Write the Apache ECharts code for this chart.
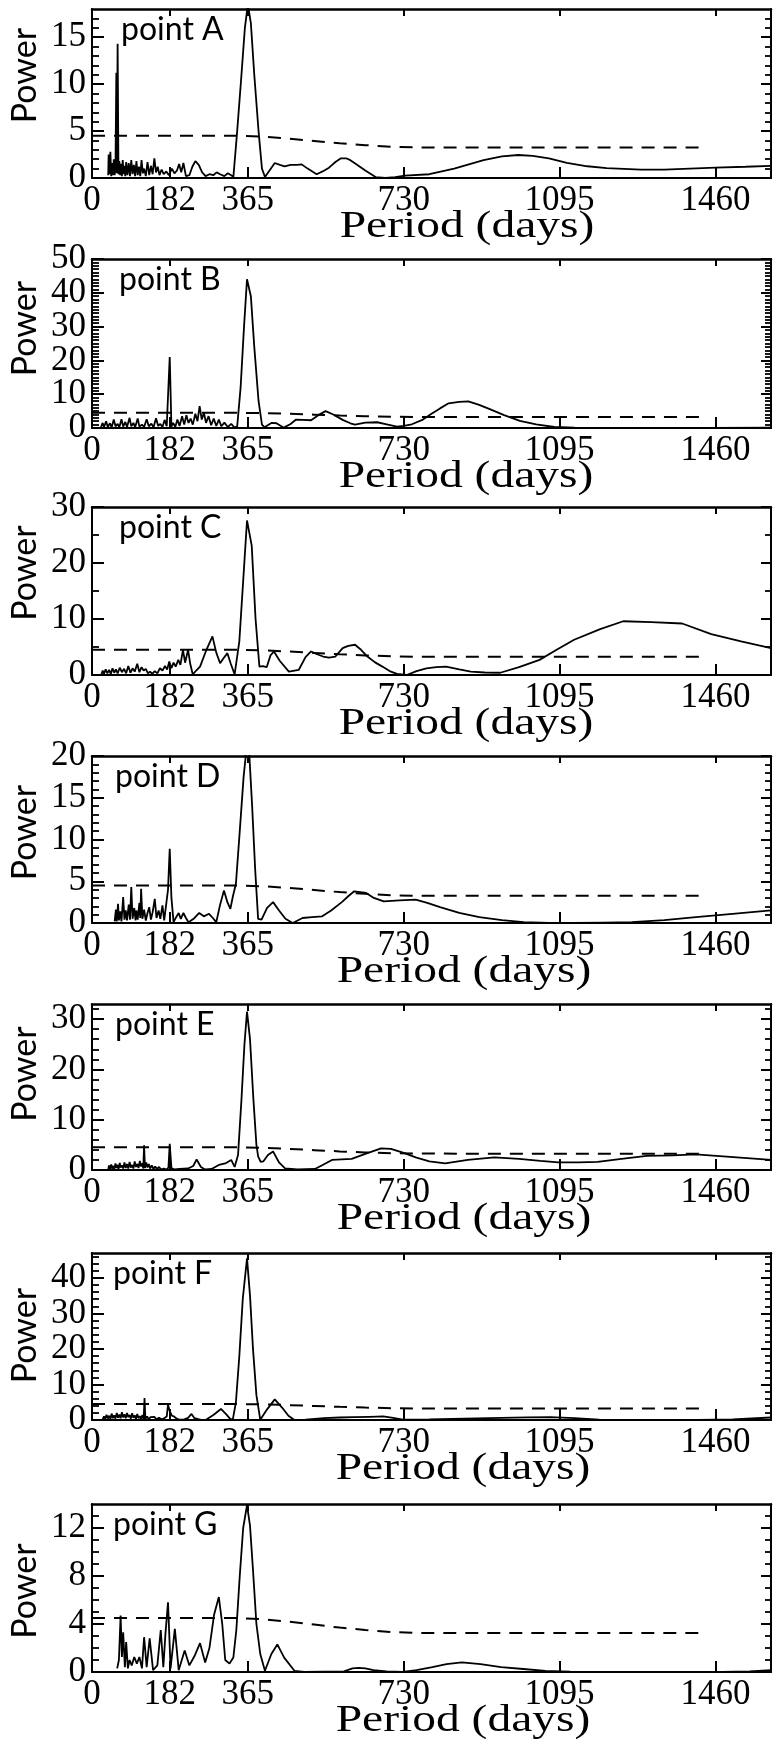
<!DOCTYPE html>
<html>
<head>
<meta charset="utf-8">
<title>Periodograms</title>
<script src="https://cdn.jsdelivr.net/npm/echarts@6/dist/echarts.min.js"></script>
<style>
html, body { margin: 0; padding: 0; background: #fff; }
#chart { width: 773px; height: 1750px; }
</style>
</head>
<body>
<div id="chart"></div>
<script>
// x axis (period in days), shared by every panel
var xTicks = [0, 182, 365, 730, 1095, 1460];
var xMax = 1590;

var pointNames = ['point A', 'point B', 'point C', 'point D', 'point E', 'point F', 'point G'];
var yMaxes = [18, 50, 30, 20, 33, 47, 14];
var yMajor = [5, 10, 10, 5, 10, 10, 4];
var yMinor = [1, 1, 5, 1, 2, 2, 1];

// significance level (dashed), same in all panels
var thresholdDays = [0, 340, 400, 460, 520, 580, 640, 700, 760, 900, 1430];
var thresholdPower = [4.5, 4.5, 4.4, 4.2, 3.95, 3.7, 3.5, 3.33, 3.26, 3.25, 3.25];

// periodograms [period (days), power]
var pointA = [[38,0.3],[39,2.5],[41,0.4],[43,2.8],[45,0.2],[47,1.6],[49,0.3],[51,2.0],[53,0.3],[55,1.2],[57,11.2],[58,0.5],[60,14.3],[62,0.4],[64,1.8],[66,0.3],[68,1.5],[70,0.2],[72,1.9],[74,0.4],[76,1.3],[78,0.2],[80,1.7],[83,0.3],[86,1.6],[89,0.2],[92,1.9],[95,0.4],[98,1.4],[101,0.2],[104,1.8],[107,0.3],[110,1.2],[113,0.2],[116,1.9],[119,0.5],[122,1.0],[126,0.2],[130,1.7],[134,0.3],[138,1.3],[142,0.4],[146,2.1],[150,0.6],[154,1.2],[158,0.3],[163,0.9],[168,0.4],[174,0.7],[180,0.3],[187,1.0],[193,0.5],[199,0.8],[204,1.5],[209,0.6],[214,1.6],[220,0.2],[228,0.3],[235,1.2],[242,1.8],[250,1.4],[258,0.6],[266,0.2],[275,0.4],[284,0.3],[292,0.6],[300,0.4],[310,0.2],[318,0.5],[326,0.3],[331,0.1],[340,5],[350,11],[358,16],[365,18.5],[372,16.5],[380,11],[390,5],[398,1],[405,0.1],[428,1.6],[440,1.4],[451,1.25],[465,1.4],[480,1.4],[491,1.45],[505,1.0],[526,0.4],[540,0.7],[555,1.1],[570,1.7],[583,2.1],[595,2.1],[605,1.9],[618,1.5],[640,0.8],[664,0.1],[687,0],[710,0.1],[733,0.25],[790,0.4],[848,1.0],[917,1.9],[960,2.3],[998,2.45],[1032,2.35],[1070,2.1],[1112,1.6],[1160,1.25],[1205,1.05],[1285,0.9],[1340,0.9],[1400,1.0],[1460,1.1],[1530,1.2],[1590,1.3]];

var pointB = [[21,0.3],[25,1.5],[28,0.2],[33,2.0],[37,0.3],[42,1.4],[46,0.2],[51,2.5],[55,0.5],[60,1.2],[64,0.2],[69,2.6],[73,0.4],[78,1.8],[82,0.3],[88,3.0],[92,0.5],[97,1.5],[101,0.2],[107,2.8],[111,0.4],[117,1.0],[122,0.3],[128,2.6],[133,0.5],[139,1.3],[144,0.2],[150,2.9],[155,0.6],[160,1.2],[165,0.3],[170,2.4],[175,0.5],[179,0.3],[182,21],[186,0.4],[190,1.5],[195,0.3],[200,2.5],[205,0.6],[211,3.5],[216,1.0],[221,3.8],[226,1.5],[231,2.8],[236,1.0],[242,4.2],[247,2.0],[252,6.5],[257,2.5],[262,4.5],[267,1.5],[273,3.5],[279,0.8],[285,2.8],[291,0.6],[297,2.5],[303,0.5],[310,1.6],[318,0.3],[326,1.2],[334,0.1],[340,0.5],[348,12],[356,30],[363,44],[372,39],[380,24],[390,8],[398,1],[404,0.2],[420,1.5],[432,1.4],[449,0.1],[465,1.2],[478,2.5],[495,2.4],[513,2.3],[530,3.8],[547,5.0],[565,4.0],[587,2.4],[605,1.4],[616,1.0],[640,1.6],[668,1.7],[690,1.1],[714,0.4],[730,0.6],[749,1.1],[775,2.5],[795,4.2],[815,5.8],[835,7.3],[860,7.7],[881,7.9],[905,6.9],[933,5.5],[965,3.8],[1002,2.1],[1040,1.1],[1083,0.3],[1130,0.1],[1175,0],[1300,0],[1450,0],[1590,0.1]];

var pointC = [[22,0.1],[25,0.8],[28,0.2],[32,1.0],[36,0.3],[40,0.9],[44,0.2],[48,1.2],[52,0.4],[56,1.0],[60,0.3],[65,1.3],[70,0.5],[75,1.1],[80,0.3],[85,1.6],[90,0.4],[95,1.2],[100,0.6],[106,2.0],[111,0.5],[116,1.4],[121,0.8],[126,1.1],[131,0.3],[136,0.6],[141,0.2],[147,0.7],[153,0.3],[159,1.2],[165,0.8],[171,1.6],[176,1.0],[181,2.4],[186,1.2],[191,2.2],[196,1.5],[202,2.7],[207,1.8],[213,4.5],[218,2.2],[225,4.5],[230,2.0],[236,0.1],[244,0.8],[253,1.5],[268,4.5],[282,6.9],[291,4.0],[300,2.1],[308,3.0],[317,3.9],[325,2.0],[334,0.1],[345,6],[355,18],[363,27.6],[374,23.1],[383,10],[392,1.5],[400,1.6],[409,1.4],[418,3.5],[426,4.2],[440,2.5],[461,0.6],[484,0.9],[500,3.2],[513,4.2],[527,3.7],[541,3.3],[555,3.1],[570,3.3],[587,4.8],[600,5.2],[616,5.4],[630,4.5],[645,3.3],[662,2.3],[680,1.5],[697,0.7],[714,0.2],[737,0],[760,0.7],[783,1.2],[806,1.4],[829,1.5],[860,1.0],[887,0.6],[920,0.45],[956,0.4],[1000,1.4],[1048,2.7],[1090,4.6],[1129,6.3],[1190,8.2],[1244,9.6],[1310,9.45],[1382,9.2],[1450,7.3],[1520,6.0],[1590,4.8]];

var pointD = [[53,0.2],[56,1.6],[58,0.2],[61,2.3],[63,0.3],[66,1.4],[69,0.2],[73,3.1],[76,0.4],[79,1.5],[82,0.3],[86,2.2],[89,0.4],[92,4.3],[95,0.5],[99,1.8],[102,0.3],[104,1.5],[107,0.4],[111,2.4],[113,0.6],[115,4.1],[118,0.5],[122,1.6],[126,0.3],[130,1.2],[134,1.9],[138,0.4],[142,1.3],[147,2.9],[151,0.6],[156,1.5],[160,0.5],[165,2.1],[169,0.3],[173,0.1],[178,4],[182,8.9],[186,3],[191,0.1],[197,0.7],[203,1.2],[208,0.5],[214,1.2],[220,0.6],[226,0.1],[238,0.5],[251,1.2],[262,0.8],[274,1.1],[283,0.6],[291,0.1],[300,2.2],[309,3.9],[317,2.5],[324,1.7],[330,3.2],[337,4.7],[346,11],[355,17.5],[362,21],[368,20.5],[375,14],[382,6.5],[389,0.5],[397,0.4],[410,1.8],[424,2.5],[438,1.5],[453,0.5],[470,0],[493,0.6],[515,0.7],[539,0.8],[560,1.5],[585,2.5],[600,3.2],[614,3.8],[628,3.7],[642,3.6],[660,3.0],[683,2.6],[720,2.7],[758,2.8],[785,2.4],[815,1.9],[860,1.2],[907,0.7],[960,0.35],[1011,0.1],[1070,0],[1126,0],[1200,0.05],[1264,0.1],[1340,0.35],[1414,0.7],[1500,1.1],[1590,1.5]];

var pointE = [[38,0.2],[40,0.9],[42,0.2],[45,1.1],[47,0.3],[50,0.8],[52,0.2],[55,1.3],[57,0.4],[60,1.0],[62,0.2],[65,1.4],[67,0.5],[70,0.9],[73,0.3],[76,1.5],[79,0.4],[82,1.2],[85,0.3],[88,1.6],[91,0.5],[94,1.0],[97,0.3],[100,1.7],[103,0.6],[106,1.2],[109,0.4],[112,1.8],[115,0.7],[118,1.3],[120,0.3],[122,4.9],[124,0.4],[127,1.5],[130,0.5],[133,1.2],[136,0.3],[140,0.9],[144,0.2],[148,0.7],[152,0.2],[157,0.6],[162,0.1],[168,0.3],[175,0.1],[179,0.5],[182,5.2],[186,0.4],[193,0.1],[205,0.2],[225,0.3],[237,0.8],[245,2.1],[255,0.6],[265,0.1],[280,0.2],[297,1.0],[312,1.3],[326,2.0],[334,0.6],[342,3],[350,14],[357,25],[363,31.5],[370,26],[378,14],[385,5],[389,2.7],[395,1.6],[401,1.7],[412,3.0],[424,3.7],[438,1.5],[452,0.3],[481,0.1],[522,0.2],[540,1.0],[562,2.0],[585,2.1],[608,2.2],[640,3.2],[677,4.3],[700,4.2],[730,3.4],[758,2.5],[790,1.7],[827,1.3],[880,2.0],[942,2.5],[1000,2.2],[1050,1.8],[1092,1.5],[1140,1.5],[1184,1.6],[1240,2.2],[1299,2.8],[1360,2.9],[1414,3.1],[1510,2.5],[1590,2.0]];

var pointF = [[25,0.2],[28,1.0],[31,0.3],[34,1.5],[37,0.4],[40,1.2],[43,0.3],[46,1.8],[49,0.5],[52,1.3],[55,0.4],[58,2.0],[61,0.6],[64,1.5],[67,0.5],[70,2.2],[73,0.7],[76,1.6],[79,0.5],[82,2.0],[85,0.8],[88,1.4],[91,0.4],[94,1.9],[97,0.6],[100,1.3],[103,0.3],[106,1.7],[109,0.5],[112,1.1],[115,0.3],[118,1.4],[121,0.2],[123,6.2],[125,0.3],[129,1.0],[133,0.2],[137,0.8],[141,0.3],[146,0.9],[151,0.2],[157,0.6],[163,0.2],[169,0.5],[175,1.0],[178,4.3],[182,2.5],[187,1.2],[192,1.0],[198,0.4],[204,0.1],[215,0.1],[225,0.6],[233,1.7],[240,0.5],[244,0.1],[255,0.05],[267,0.1],[285,1.5],[302,3.1],[315,1.5],[325,0.1],[330,0.3],[337,5],[345,18],[353,34],[363,45.5],[370,35],[377,20],[385,7],[394,0.1],[410,3],[428,5.8],[445,3.5],[460,1.2],[474,0],[500,0.1],[543,0.5],[580,0.7],[613,0.8],[650,0.9],[682,1.0],[705,0.6],[728,0.1],[790,0.15],[843,0.3],[900,0.45],[958,0.6],[1020,0.75],[1073,0.8],[1130,0.5],[1188,0.1],[1300,0],[1418,0],[1500,0.2],[1590,0.7]];

var pointG = [[59,0.3],[63,1.0],[67,4.7],[70,1.25],[73,3.3],[77,0.4],[80,2.5],[84,0.3],[88,1.0],[93,0.55],[99,1.25],[105,0.7],[111,1.25],[117,0.3],[122,2.9],[128,0.4],[135,2.8],[143,0.15],[153,0.55],[161,3.5],[167,0.4],[172,3.2],[178,5.8],[184,0.3],[194,3.6],[203,0.15],[217,1.8],[228,0.55],[241,1.4],[253,2.4],[265,0.8],[275,2.0],[286,4.8],[297,6.25],[305,4.0],[312,1.0],[322,0.7],[331,1.2],[338,3.5],[346,8],[354,12],[363,13.9],[370,12.2],[377,8.5],[385,4],[394,1.5],[405,0.1],[420,1.5],[434,2.3],[450,1.2],[474,0.1],[497,0],[590,0.05],[610,0.3],[624,0.35],[640,0.3],[659,0.15],[690,0.05],[728,0],[760,0.15],[797,0.4],[830,0.65],[866,0.8],[910,0.65],[958,0.4],[1010,0.25],[1062,0.1],[1120,0.03],[1188,0],[1476,0],[1540,0.05],[1590,0.15]];

var panelData = [pointA, pointB, pointC, pointD, pointE, pointF, pointG];

// panel boxes (px)
var gridLeft = [91, 89, 89, 85, 85, 83, 83];
var gridTop = [9, 259, 507, 756, 1004, 1253, 1504];
var gridHeight = [169, 169, 168, 167, 166, 167, 168];
// how far "Power" sits above the middle of its panel
var powerShift = [18, 15, 18, 7, 13, 1, -3];

var serif = '"Liberation Serif", "Times New Roman", "DejaVu Serif", serif';
var sans = 'Lato, "Open Sans", sans-serif';

function majorValues(i, parity) {
    var out = [];
    var k = 0;
    for (var v = 0; v <= yMaxes[i] + 1e-9; v += yMajor[i]) {
        if (parity === undefined || k % 2 === parity) {
            out.push(v);
        }
        k++;
    }
    return out;
}

function plainNumber(v) {
    return String(v);
}

var threshold = thresholdDays.map(function (d, k) {
    return [d, thresholdPower[k]];
});

var grids = [], xAxes = [], yAxes = [], series = [], texts = [];

for (var i = 0; i < panelData.length; i++) {
    grids.push({ left: gridLeft[i], right: 2, top: gridTop[i], height: gridHeight[i] });

    // bottom x axis
    xAxes.push({
        type: 'value', gridIndex: i, position: 'bottom', min: 0, max: xMax,
        axisLine: { onZero: false, lineStyle: { color: '#000', width: 2 } },
        axisTick: { show: true, inside: true, length: 11, customValues: xTicks, lineStyle: { color: '#000', width: 2 } },
        axisLabel: { customValues: xTicks, formatter: plainNumber, showMinLabel: true, showMaxLabel: true,
            color: '#000', fontFamily: serif, fontSize: 35, margin: 5 },
        splitLine: { show: false }
    });
    // top x axis (ticks only)
    xAxes.push({
        type: 'value', gridIndex: i, position: 'top', min: 0, max: xMax,
        axisLine: { onZero: false, lineStyle: { color: '#000', width: 2.5 } },
        axisTick: { show: true, inside: true, length: 7, customValues: xTicks, lineStyle: { color: '#000', width: 2 } },
        axisLabel: { show: false },
        splitLine: { show: false }
    });

    var sh = powerShift[i];
    var splitNum = yMajor[i] / yMinor[i];
    // left axis: line, ticks, every other label
    yAxes.push({
        type: 'value', gridIndex: i, position: 'left', min: 0, max: yMaxes[i], interval: yMajor[i],
        axisLine: { show: true, onZero: false, lineStyle: { color: '#000', width: 2 } },
        axisTick: { show: true, inside: true, length: 12, customValues: majorValues(i), lineStyle: { color: '#000', width: 2 } },
        minorTick: { show: true, splitNumber: splitNum, length: 7, lineStyle: { color: '#000', width: 1.8 } },
        axisLabel: { customValues: majorValues(i, 0), formatter: plainNumber, showMinLabel: true, showMaxLabel: true,
            color: '#000', fontFamily: serif, fontSize: 35, margin: 6 },
        splitLine: { show: false },
        name: 'Power', nameLocation: 'middle', nameGap: 50, nameMoveOverlap: false,
        nameTextStyle: { color: '#000', fontFamily: sans, fontSize: 34,
            padding: sh >= 0 ? [0, 0, 0, 2 * sh] : [0, -2 * sh, 0, 0] }
    });
    // left axis: the other labels (kept apart so none get dropped)
    yAxes.push({
        type: 'value', gridIndex: i, position: 'left', min: 0, max: yMaxes[i], interval: yMajor[i],
        axisLine: { show: false, onZero: false },
        axisTick: { show: false },
        axisLabel: { customValues: majorValues(i, 1), formatter: plainNumber, showMinLabel: true, showMaxLabel: true,
            color: '#000', fontFamily: serif, fontSize: 35, margin: 6 },
        splitLine: { show: false }
    });
    // right axis, ticks only
    yAxes.push({
        type: 'value', gridIndex: i, position: 'right', min: 0, max: yMaxes[i], interval: yMajor[i],
        axisLine: { show: true, onZero: false, lineStyle: { color: '#000', width: 2 } },
        axisTick: { show: true, inside: true, length: 10, customValues: majorValues(i), lineStyle: { color: '#000', width: 2 } },
        minorTick: { show: true, splitNumber: splitNum, length: 6, lineStyle: { color: '#000', width: 1.8 } },
        axisLabel: { show: false },
        splitLine: { show: false }
    });

    series.push({
        type: 'line', xAxisIndex: 2 * i, yAxisIndex: 3 * i,
        data: panelData[i], symbol: 'none', clip: true,
        lineStyle: { color: '#000', width: 1.8 }
    });
    series.push({
        type: 'line', xAxisIndex: 2 * i, yAxisIndex: 3 * i,
        data: threshold, symbol: 'none', clip: true,
        lineStyle: { color: '#000', width: 2, type: [13, 9] }
    });

    texts.push({
        type: 'text', left: gridLeft[i] + 30, top: gridTop[i] + 5,
        style: { text: pointNames[i], fill: '#000', font: '32px ' + sans }
    });
    // x axis title, a little wider than the font's own shape as in the original
    texts.push({
        type: 'text', x: (gridLeft[i] + 771) / 2 + 36, y: gridTop[i] + gridHeight[i] + 49,
        scaleX: 1.25, scaleY: 1,
        style: { text: 'Period (days)', fill: '#000', font: '38px ' + serif, align: 'center', verticalAlign: 'middle' }
    });
}

var chart = echarts.init(document.getElementById('chart'));
chart.setOption({
    animation: false,
    backgroundColor: '#fff',
    grid: grids,
    xAxis: xAxes,
    yAxis: yAxes,
    series: series,
    graphic: texts
});
</script>
</body>
</html>
